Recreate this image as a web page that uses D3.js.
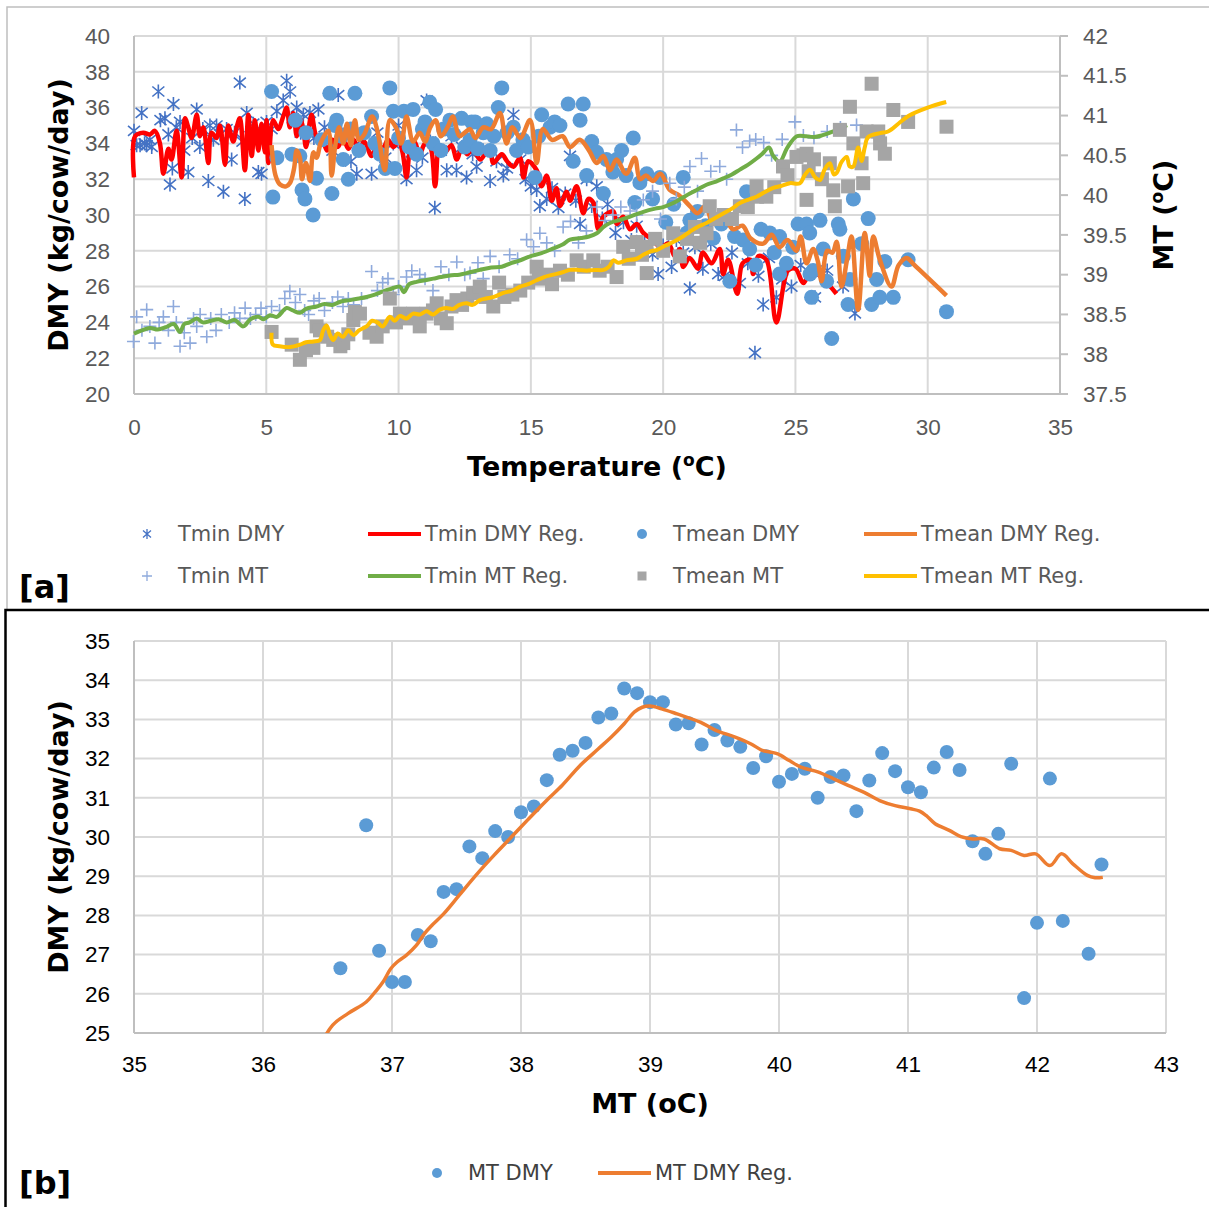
<!DOCTYPE html>
<html>
<head>
<meta charset="utf-8">
<script src="https://cdn.jsdelivr.net/npm/d3@7"></script>
<style>
  body { margin: 0; background: #fff; }
  svg { display: block; font-family: "DejaVu Sans", Verdana, sans-serif; }
</style>
</head>
<body>
<div id="chart"></div>
<script>
/// DATA panel [a]  ([temperature, DMY] or [temperature, MT])
const tminDmy = [[0.0,34.7],[0.1,33.9],[0.23,33.9],[0.29,35.7],[0.4,34.0],[0.48,33.9],[0.6,34.2],[0.67,33.8],[0.92,36.9],[1.0,35.3],[1.17,35.4],[1.3,34.5],[1.36,31.7],[1.45,32.6],[1.49,36.2],[1.6,34.9],[1.74,35.2],[1.9,33.6],[2.05,32.4],[2.2,34.3],[2.37,35.9],[2.49,33.8],[2.6,34.8],[2.81,31.9],[2.87,35.0],[3.0,34.2],[3.12,35.0],[3.25,34.5],[3.38,31.3],[3.5,34.8],[3.69,33.1],[3.8,34.6],[4.0,37.4],[4.1,34.1],[4.19,30.9],[4.26,35.7],[4.4,34.4],[4.51,35.1],[4.7,32.4],[4.82,32.3],[4.9,34.5],[5.01,35.2],[5.2,34.8],[5.4,35.8],[5.64,36.4],[5.77,37.5],[5.9,36.9],[6.0,35.4],[6.15,36.0],[6.3,34.6],[6.4,35.6],[6.65,35.7],[6.8,34.3],[6.97,35.9],[7.2,34.9],[7.5,33.6],[7.72,36.7],[7.9,34.5],[8.2,33.0],[8.42,32.3],[8.6,34.2],[8.98,32.3],[9.2,34.6],[9.5,33.2],[9.8,34.0],[10.0,35.0],[10.3,32.0],[10.5,33.5],[10.68,32.5],[10.9,33.2],[11.06,36.4],[11.2,34.1],[11.37,30.4],[11.6,33.6],[11.82,32.5],[12.0,34.4],[12.19,32.5],[12.4,33.8],[12.57,32.1],[12.8,33.4],[12.95,32.7],[13.2,33.6],[13.46,31.9],[13.7,33.0],[13.96,32.2],[14.1,32.6],[14.34,35.6],[14.6,33.1],[14.8,32.0],[15.0,31.6],[15.22,31.4],[15.34,30.5],[15.6,30.9],[15.8,31.5],[16.04,30.4],[16.3,31.2],[16.48,33.3],[16.7,30.8],[16.86,29.5],[17.11,32.0],[17.3,30.5],[17.49,31.6],[17.7,29.8],[17.9,30.6],[18.2,29.0],[18.5,29.6],[18.8,28.6],[19.0,29.4],[19.3,28.4],[19.6,27.8],[19.81,26.7],[20.0,28.3],[20.32,27.1],[20.5,28.6],[20.76,27.9],[21.01,25.9],[21.2,28.2],[21.5,27.0],[21.8,28.4],[22.08,26.7],[22.33,26.6],[22.6,27.9],[22.9,26.2],[23.2,27.3],[23.47,22.3],[23.6,26.6],[23.78,25.0],[24.0,27.6],[24.28,25.4],[24.5,26.4],[24.85,26.0],[25.2,27.2],[25.74,25.4],[26.2,26.9],[26.8,26.0],[27.25,24.5]];

const tminDmyReg = [[0.0,32.1],[0.04,34.4],[0.35,34.6],[0.6,34.5],[0.79,34.7],[0.98,34.0],[1.11,32.3],[1.3,33.7],[1.42,33.1],[1.61,34.7],[1.8,32.1],[1.93,35.4],[2.05,34.9],[2.18,34.3],[2.37,35.6],[2.49,34.4],[2.62,34.9],[2.81,32.9],[2.93,34.6],[3.12,34.3],[3.25,35.0],[3.44,32.8],[3.56,35.0],[3.75,34.1],[3.88,34.9],[4.0,35.4],[4.19,32.5],[4.32,35.6],[4.45,33.3],[4.57,35.3],[4.7,33.6],[4.82,35.1],[4.95,33.5],[5.01,35.3],[5.08,32.9],[5.26,35.3],[5.45,34.8],[5.64,35.5],[5.77,36.0],[5.89,34.9],[6.02,35.7],[6.15,34.4],[6.27,35.4],[6.4,34.8],[6.5,33.8],[6.71,35.6],[6.9,34.4],[7.1,34.3],[7.3,33.6],[7.5,34.2],[7.7,33.8],[7.9,34.3],[8.1,33.7],[8.3,34.2],[8.5,33.6],[8.7,34.1],[8.98,33.3],[9.2,34.0],[9.4,33.7],[9.6,34.2],[9.8,33.8],[10.0,34.1],[10.15,33.5],[10.3,32.1],[10.45,33.8],[10.6,34.1],[10.8,33.4],[11.0,34.0],[11.2,33.8],[11.38,31.6],[11.55,33.9],[11.75,33.5],[12.0,33.9],[12.2,33.1],[12.4,33.8],[12.6,33.4],[12.8,33.7],[13.08,33.1],[13.3,33.5],[13.46,33.8],[13.58,32.9],[13.9,33.4],[14.1,33.0],[14.34,32.7],[14.59,33.2],[14.72,32.1],[14.9,33.0],[15.22,32.5],[15.41,31.6],[15.6,32.2],[15.79,30.8],[15.97,31.5],[16.1,30.5],[16.35,31.3],[16.48,30.8],[16.73,31.6],[16.98,30.1],[17.17,30.9],[17.36,30.7],[17.55,29.2],[17.74,29.9],[18.12,30.2],[18.24,29.5],[18.49,29.9],[18.75,29.2],[19.0,29.5],[19.25,29.0],[19.6,28.6],[19.9,28.2],[20.2,28.4],[20.44,27.7],[20.63,28.1],[20.76,27.1],[21.0,27.6],[21.32,27.0],[21.5,27.9],[21.83,27.3],[22.14,28.1],[22.27,26.7],[22.46,27.5],[22.8,25.6],[23.0,27.3],[23.3,27.5],[23.4,26.7],[23.6,27.7],[23.9,27.5],[24.28,24.0],[24.72,26.9],[25.0,27.0],[25.3,26.2],[25.6,26.9],[26.0,26.5],[26.55,25.6]];

const tmeanDmy = [[5.2,36.9],[5.25,31.0],[5.4,33.2],[5.97,33.4],[6.1,35.3],[6.27,33.3],[6.35,31.4],[6.46,30.9],[6.5,34.6],[6.77,30.0],[6.9,32.05],[7.1,34.2],[7.4,36.8],[7.48,31.2],[7.6,35.0],[7.66,35.3],[7.85,34.4],[7.91,33.1],[8.1,32.0],[8.2,34.8],[8.35,36.8],[8.5,33.6],[8.7,34.6],[8.98,35.5],[9.1,34.0],[9.3,33.4],[9.5,32.6],[9.67,37.1],[9.8,35.8],[9.86,32.6],[10.0,34.3],[10.2,35.8],[10.4,33.8],[10.55,35.9],[10.68,33.4],[10.9,34.8],[11.0,35.2],[11.18,36.3],[11.3,34.0],[11.4,35.9],[11.6,33.6],[11.7,34.8],[11.94,35.3],[12.1,34.5],[12.38,35.4],[12.5,33.8],[12.7,34.2],[12.76,35.2],[12.89,35.2],[13.0,33.7],[13.2,34.6],[13.33,35.1],[13.46,33.6],[13.6,34.4],[13.77,36.0],[13.9,37.1],[14.1,34.6],[14.34,34.9],[14.46,33.6],[14.7,34.2],[14.9,33.8],[15.16,32.1],[15.3,34.4],[15.41,35.6],[15.72,34.9],[15.9,35.2],[16.1,35.0],[16.41,36.2],[16.6,33.0],[16.86,35.3],[16.98,36.2],[17.11,32.2],[17.3,34.1],[17.49,33.5],[17.74,31.2],[17.86,33.1],[18.1,32.4],[18.24,33.1],[18.43,33.6],[18.6,32.2],[18.87,34.3],[18.93,30.7],[19.12,31.8],[19.38,32.3],[19.6,30.9],[19.88,32.1],[20.1,29.6],[20.4,30.6],[20.76,32.1],[20.9,29.0],[21.01,29.7],[21.3,30.2],[21.6,29.4],[21.9,28.7],[22.2,29.5],[22.52,26.3],[22.7,28.8],[23.02,28.6],[23.15,31.3],[23.27,28.1],[23.5,27.2],[23.7,29.2],[24.03,29.0],[24.2,27.9],[24.4,28.8],[24.4,26.7],[24.66,27.3],[24.9,28.2],[25.1,29.5],[25.42,29.5],[25.54,29.0],[25.55,26.7],[25.61,25.4],[25.67,26.9],[25.93,29.7],[26.05,28.1],[26.18,26.3],[26.37,23.1],[26.62,29.5],[26.68,29.2],[26.81,27.7],[26.99,25.0],[27.06,26.4],[27.19,30.9],[27.5,28.4],[27.75,29.8],[27.88,25.0],[28.07,26.4],[28.19,25.4],[28.38,27.4],[28.7,25.4],[29.26,27.5],[30.71,24.6]];

const tmeanDmyReg = [[5.2,33.9],[5.35,32.2],[5.52,31.7],[5.75,31.6],[5.9,31.8],[6.05,32.6],[6.15,33.6],[6.27,33.2],[6.35,32.0],[6.5,32.9],[6.65,31.9],[6.78,33.5],[6.9,33.2],[7.05,34.0],[7.22,34.5],[7.35,34.7],[7.47,32.2],[7.6,33.8],[7.75,34.9],[7.91,34.0],[8.05,35.1],[8.2,33.9],[8.35,35.3],[8.5,34.2],[8.7,34.5],[9.0,35.5],[9.2,34.7],[9.48,32.5],[9.67,35.3],[9.9,34.9],[10.1,34.0],[10.3,35.5],[10.55,34.1],[10.8,34.6],[11.0,34.1],[11.2,34.9],[11.4,35.3],[11.6,34.4],[11.85,34.9],[12.05,35.5],[12.3,34.4],[12.5,34.6],[12.7,34.8],[12.9,34.3],[13.2,34.9],[13.5,34.8],[13.83,35.7],[14.08,34.0],[14.3,34.9],[14.6,34.3],[14.97,35.3],[15.22,32.9],[15.45,34.8],[15.8,34.2],[16.2,34.4],[16.48,33.8],[16.85,34.2],[17.2,33.6],[17.49,32.9],[17.74,33.3],[17.99,32.5],[18.24,33.1],[18.6,32.3],[18.93,33.2],[19.12,32.0],[19.35,32.2],[19.62,31.9],[19.9,32.3],[20.25,31.4],[20.6,31.1],[21.01,30.5],[21.3,30.1],[21.6,30.5],[21.9,29.5],[22.3,29.8],[22.65,29.2],[23.0,29.4],[23.3,28.7],[23.78,28.4],[24.1,28.9],[24.4,28.2],[24.7,28.6],[25.04,28.0],[25.2,28.8],[25.42,27.3],[25.67,28.1],[25.85,27.4],[25.99,26.3],[26.2,28.0],[26.4,27.9],[26.56,28.5],[26.74,26.0],[26.95,27.5],[27.12,28.8],[27.37,24.7],[27.62,29.0],[27.81,26.6],[27.94,28.8],[28.19,27.5],[28.63,26.0],[28.9,27.2],[29.2,27.6],[29.5,27.2],[30.71,25.5]];

const tminMt = [[-0.02,38.16],[0.1,38.47],[0.3,38.3],[0.48,38.56],[0.6,38.35],[0.79,38.14],[0.95,38.4],[1.11,38.47],[1.3,38.3],[1.49,38.6],[1.6,38.4],[1.74,38.1],[1.9,38.27],[2.12,38.14],[2.25,38.45],[2.37,38.35],[2.5,38.5],[2.75,38.22],[2.9,38.45],[3.1,38.3],[3.3,38.5],[3.6,38.4],[3.8,38.52],[4.0,38.45],[4.2,38.58],[4.4,38.45],[4.6,38.5],[4.8,38.58],[5.0,38.47],[5.2,38.6],[5.5,38.55],[5.7,38.7],[5.89,38.79],[6.1,38.65],[6.27,38.75],[6.45,38.55],[6.6,38.5],[6.8,38.67],[7.0,38.7],[7.2,38.55],[7.5,38.65],[7.7,38.72],[7.9,38.6],[8.1,38.7],[8.3,38.62],[8.6,38.7],[8.98,39.04],[9.2,38.8],[9.4,38.9],[9.6,38.95],[9.8,38.75],[10.0,38.85],[10.3,38.97],[10.5,39.05],[10.8,39.0],[11.0,38.95],[11.3,38.8],[11.6,39.1],[11.9,39.0],[12.2,39.16],[12.5,39.0],[12.7,39.02],[13.0,39.15],[13.2,38.95],[13.46,39.23],[13.8,39.1],[14.2,39.25],[14.5,39.2],[14.84,39.44],[15.1,39.35],[15.34,39.52],[15.6,39.4],[15.9,39.3],[16.22,39.6],[16.5,39.67],[16.8,39.4],[17.1,39.55],[17.49,39.85],[17.8,39.68],[18.1,39.75],[18.4,39.85],[18.75,39.8],[19.0,39.75],[19.25,39.94],[19.6,40.05],[19.9,39.7],[20.25,40.15],[20.5,39.95],[20.8,40.1],[21.01,40.36],[21.3,40.05],[21.45,40.46],[21.8,40.3],[22.14,40.36],[22.4,40.2],[22.77,40.82],[23.0,40.6],[23.27,40.68],[23.5,40.7],[23.8,40.66],[24.1,40.5],[24.5,40.7],[24.98,40.92],[25.3,40.75],[25.7,40.72],[26.2,40.8],[26.7,40.85],[27.31,40.88]];

const tminMtReg = [[0,38.26],[0.3,38.3],[0.6,38.33],[0.9,38.31],[1.2,38.34],[1.5,38.38],[1.74,38.28],[1.9,38.38],[2.1,38.4],[2.37,38.45],[2.6,38.4],[2.9,38.42],[3.2,38.44],[3.5,38.4],[3.8,38.43],[4.13,38.35],[4.4,38.44],[4.7,38.47],[4.9,38.44],[5.14,38.49],[5.4,38.47],[5.77,38.58],[6.0,38.55],[6.27,38.52],[6.5,38.57],[6.9,38.6],[7.2,38.63],[7.5,38.62],[7.8,38.66],[8.16,38.68],[8.5,38.7],[8.79,38.72],[9.1,38.75],[9.42,38.79],[9.7,38.82],[10.05,38.85],[10.2,38.78],[10.4,38.88],[10.68,38.91],[11.0,38.93],[11.31,38.95],[11.6,38.97],[11.94,38.99],[12.3,39.0],[12.57,39.02],[13.07,39.06],[13.5,39.09],[13.9,39.1],[14.21,39.14],[14.6,39.18],[14.97,39.23],[15.4,39.27],[15.85,39.33],[16.2,39.38],[16.48,39.44],[16.9,39.46],[17.2,39.48],[17.49,39.52],[17.75,39.6],[17.99,39.65],[18.4,39.69],[18.75,39.73],[19.0,39.76],[19.25,39.79],[19.7,39.83],[20.0,39.85],[20.38,39.9],[20.7,39.96],[21.01,40.02],[21.3,40.07],[21.64,40.13],[22.0,40.17],[22.27,40.21],[22.6,40.26],[22.9,40.32],[23.2,40.38],[23.53,40.46],[23.75,40.52],[24.0,40.6],[24.15,40.5],[24.4,40.42],[24.7,40.6],[25.05,40.74],[25.4,40.74],[25.7,40.73],[26.0,40.75],[26.43,40.8],[26.95,40.88]];

const tmeanMt = [[5.2,38.28],[5.96,38.12],[6.27,37.93],[6.5,38.05],[6.78,38.08],[6.9,38.35],[7.03,38.3],[7.3,38.22],[7.53,38.18],[7.8,38.1],[7.91,38.14],[8.1,38.25],[8.29,38.43],[8.35,38.53],[8.54,38.51],[8.9,38.27],[9.17,38.22],[9.4,38.35],[9.67,38.7],[9.9,38.4],[10.05,38.51],[10.3,38.45],[10.55,38.51],[10.8,38.35],[11.06,38.51],[11.3,38.55],[11.44,38.64],[11.6,38.45],[11.82,38.39],[12.0,38.6],[12.19,38.68],[12.4,38.62],[12.6,38.7],[12.82,38.77],[13.07,38.85],[13.3,38.72],[13.58,38.6],[13.8,38.9],[14.0,38.72],[14.3,38.75],[14.6,38.8],[14.9,38.9],[15.22,39.1],[15.3,38.95],[15.6,39.0],[15.8,38.88],[16.1,39.05],[16.4,39.0],[16.73,39.18],[17.0,39.1],[17.36,39.18],[17.6,39.05],[17.9,39.1],[18.24,38.97],[18.49,39.35],[18.7,39.2],[19.0,39.41],[19.2,39.25],[19.38,39.02],[19.37,39.35],[19.7,39.45],[20.0,39.3],[20.38,39.52],[20.63,39.23],[20.9,39.45],[21.2,39.6],[21.4,39.4],[21.64,39.52],[21.76,39.86],[22.0,39.7],[22.3,39.75],[22.6,39.7],[22.9,39.86],[23.2,39.85],[23.53,40.11],[23.55,39.98],[23.9,39.98],[24.2,40.1],[24.53,40.36],[24.7,40.25],[25.04,40.48],[25.3,40.5],[25.42,40.52],[25.5,40.3],[25.42,39.94],[25.7,40.45],[26.0,40.2],[26.3,40.4],[26.43,40.06],[26.49,39.86],[26.68,40.82],[26.99,40.11],[27.06,41.11],[27.19,40.65],[27.5,40.4],[27.56,40.15],[27.69,40.8],[27.88,41.4],[28.13,40.8],[28.2,40.65],[28.38,40.52],[28.7,41.07],[29.26,40.92],[30.71,40.86]];

const tmeanMtReg = [[5.2,38.27],[5.25,38.12],[5.5,38.1],[5.9,38.09],[6.27,38.12],[6.5,38.15],[6.78,38.16],[7.03,38.18],[7.15,38.3],[7.28,38.36],[7.4,38.25],[7.53,38.18],[7.7,38.26],[7.9,38.22],[8.1,38.3],[8.3,38.24],[8.5,38.3],[8.79,38.35],[9.0,38.42],[9.2,38.4],[9.4,38.35],[9.67,38.47],[9.85,38.42],[10.05,38.48],[10.3,38.45],[10.55,38.51],[10.8,38.5],[11.06,38.54],[11.3,38.5],[11.56,38.56],[11.8,38.58],[12.05,38.57],[12.3,38.62],[12.57,38.64],[12.8,38.62],[13.07,38.68],[13.3,38.7],[13.6,38.72],[13.96,38.77],[14.3,38.8],[14.6,38.85],[14.9,38.88],[15.22,38.93],[15.5,38.97],[15.85,39.0],[16.2,39.03],[16.48,39.06],[16.8,39.06],[17.1,39.05],[17.4,39.06],[17.74,39.06],[17.95,39.1],[18.12,39.18],[18.3,39.15],[18.6,39.18],[19.0,39.2],[19.25,39.25],[19.5,39.29],[19.75,39.31],[20.05,39.36],[20.38,39.41],[20.7,39.47],[21.01,39.54],[21.3,39.6],[21.64,39.65],[21.95,39.71],[22.27,39.77],[22.6,39.83],[22.9,39.9],[23.2,39.94],[23.53,39.98],[23.85,40.04],[24.16,40.09],[24.5,40.12],[24.79,40.15],[25.17,40.15],[25.35,40.25],[25.55,40.32],[25.75,40.22],[25.93,40.19],[26.1,40.32],[26.3,40.4],[26.45,40.26],[26.56,40.28],[26.75,40.42],[26.94,40.48],[27.05,40.36],[27.19,40.36],[27.37,40.6],[27.5,40.43],[27.62,40.6],[27.75,40.73],[28.2,40.78],[28.5,40.8],[28.9,40.9],[29.3,41.0],[30.0,41.1],[30.7,41.17]];

/// DATA panel [b]  ([MT, DMY])
const mtDmy = [[36.6,26.65],[36.8,30.3],[36.9,27.1],[37.0,26.3],[37.1,26.3],[37.2,27.5],[37.3,27.34],[37.4,28.6],[37.5,28.67],[37.6,29.76],[37.7,29.46],[37.8,30.15],[37.9,30.0],[38.0,30.63],[38.1,30.78],[38.2,31.45],[38.3,32.1],[38.4,32.2],[38.5,32.4],[38.6,33.05],[38.7,33.15],[38.8,33.79],[38.9,33.67],[39.0,33.44],[39.1,33.44],[39.2,32.87],[39.3,32.9],[39.4,32.36],[39.5,32.73],[39.6,32.46],[39.7,32.3],[39.8,31.76],[39.9,32.06],[40.0,31.41],[40.1,31.61],[40.2,31.74],[40.3,31.0],[40.4,31.53],[40.5,31.57],[40.6,30.66],[40.7,31.44],[40.8,32.14],[40.9,31.68],[41.0,31.27],[41.1,31.14],[41.2,31.77],[41.3,32.17],[41.4,31.71],[41.5,29.89],[41.6,29.57],[41.7,30.08],[41.8,31.87],[41.9,25.89],[42.0,27.81],[42.1,31.49],[42.2,27.86],[42.4,27.02],[42.5,29.3]];

const mtDmyReg = [[36.4,24.4],[36.54,25.2],[36.66,25.5],[36.8,25.79],[36.87,26.05],[36.93,26.3],[36.99,26.64],[37.04,26.81],[37.11,26.98],[37.19,27.24],[37.25,27.53],[37.31,27.75],[37.4,28.04],[37.52,28.51],[37.66,29.06],[37.79,29.53],[37.9,29.91],[38.05,30.43],[38.2,30.94],[38.32,31.32],[38.46,31.83],[38.6,32.25],[38.7,32.55],[38.8,32.89],[38.88,33.19],[38.94,33.31],[39.0,33.34],[39.09,33.27],[39.21,33.14],[39.39,32.93],[39.51,32.72],[39.66,32.55],[39.78,32.38],[39.87,32.21],[39.93,32.17],[39.99,32.12],[40.08,31.95],[40.17,31.78],[40.3,31.66],[40.42,31.49],[40.54,31.31],[40.66,31.14],[40.78,30.93],[40.9,30.8],[41.02,30.72],[41.09,30.66],[41.14,30.55],[41.21,30.34],[41.32,30.17],[41.41,30.01],[41.5,29.95],[41.59,29.95],[41.71,29.7],[41.8,29.66],[41.9,29.53],[41.99,29.57],[42.1,29.27],[42.19,29.57],[42.28,29.31],[42.39,29.02],[42.45,28.96],[42.51,28.97]];

/// SETUP
const W = 1209, H = 1207;
const svg = d3.select('#chart').append('svg').attr('width', W).attr('height', H);
const GRID = '#d9d9d9', AXIS = '#bfbfbf', TXT = '#595959';
const TICK = '22.5px', TITLE = '27px';

const starPath = 'M0,-7V7M-6,-5L6,5M-6,5L6,-5';
const plusPath = 'M-6.5,0H6.5M0,-6.5V6.5';

// frames
svg.append('path').attr('d', 'M7,609V7H1209').attr('fill', 'none').attr('stroke', '#bfbfbf').attr('stroke-width', 1.5);
svg.append('path').attr('d', 'M5.5,1207V610H1209').attr('fill', 'none').attr('stroke', '#000').attr('stroke-width', 2.5);

function grid(g, x, y, xt, yt) {
  g.selectAll('.gx').data(xt).join('line')
    .attr('x1', d => x(d)).attr('x2', d => x(d))
    .attr('y1', y.range()[0]).attr('y2', y.range()[1])
    .attr('stroke', GRID).attr('stroke-width', 2);
  g.selectAll('.gy').data(yt).join('line')
    .attr('x1', x.range()[0]).attr('x2', x.range()[1])
    .attr('y1', d => y(d)).attr('y2', d => y(d))
    .attr('stroke', GRID).attr('stroke-width', 2);
}

function styleAxis(sel, color) {
  sel.select('.domain').remove();
  sel.selectAll('line').remove();
  sel.selectAll('text').attr('fill', color).style('font-size', TICK);
}

function line(x, y) {
  return d3.line().x(d => x(d[0])).y(d => y(d[1])).curve(d3.curveCatmullRom.alpha(0.5));
}

function supTitle(t, pre) {
  t.append('tspan').text(pre);
  t.append('tspan').text('o').style('font-size', '17px').attr('dy', -10);
  t.append('tspan').text('C)').attr('dy', 10);
}

/// PANEL [a]
const ax = d3.scaleLinear().domain([0, 35]).range([134, 1060]);
const ay = d3.scaleLinear().domain([20, 40]).range([394, 36]);
const ay2 = d3.scaleLinear().domain([37.5, 42]).range([394, 36]);

const ga = svg.append('g');
grid(ga.append('g'), ax, ay, d3.range(5, 35, 5), d3.range(22, 41, 2));

ga.append('line').attr('x1', 134).attr('x2', 134).attr('y1', 36).attr('y2', 394).attr('stroke', AXIS).attr('stroke-width', 2);
ga.append('line').attr('x1', 134).attr('x2', 1060).attr('y1', 394).attr('y2', 394).attr('stroke', AXIS).attr('stroke-width', 2);
ga.append('line').attr('x1', 1060).attr('x2', 1060).attr('y1', 36).attr('y2', 394).attr('stroke', AXIS).attr('stroke-width', 2);
ga.selectAll('.rt').data(d3.range(37.5, 42.01, 0.5)).join('line')
  .attr('x1', 1060).attr('x2', 1068).attr('y1', d => ay2(d)).attr('y2', d => ay2(d))
  .attr('stroke', AXIS).attr('stroke-width', 2);

ga.append('g').attr('transform', 'translate(0,394)')
  .call(d3.axisBottom(ax).tickValues(d3.range(0, 36, 5)).tickSize(0).tickPadding(25))
  .call(s => styleAxis(s, TXT));
ga.append('g').attr('transform', 'translate(134,0)')
  .call(d3.axisLeft(ay).tickValues(d3.range(20, 41, 2)).tickSize(0).tickPadding(24))
  .call(s => styleAxis(s, TXT));
ga.append('g').attr('transform', 'translate(1060,0)')
  .call(d3.axisRight(ay2).tickValues(d3.range(37.5, 42.01, 0.5)).tickSize(0).tickPadding(23).tickFormat(d3.format('~g')))
  .call(s => styleAxis(s, TXT));

// series, in Excel order
ga.append('g').selectAll('path').data(tminDmy).join('path')
  .attr('d', starPath).attr('transform', d => `translate(${ax(d[0])},${ay(d[1])})`)
  .attr('stroke', '#4472c4').attr('stroke-width', 1.6).attr('fill', 'none');
ga.append('path').datum(tminDmyReg).attr('d', line(ax, ay))
  .attr('fill', 'none').attr('stroke', '#ff0000').attr('stroke-width', 4.5).attr('stroke-linejoin', 'round');
ga.append('g').selectAll('circle').data(tmeanDmy).join('circle')
  .attr('cx', d => ax(d[0])).attr('cy', d => ay(d[1])).attr('r', 7.5).attr('fill', '#5b9bd5');
ga.append('path').datum(tmeanDmyReg).attr('d', line(ax, ay))
  .attr('fill', 'none').attr('stroke', '#ed7d31').attr('stroke-width', 4.5).attr('stroke-linejoin', 'round');
ga.append('g').selectAll('path').data(tminMt).join('path')
  .attr('d', plusPath).attr('transform', d => `translate(${ax(d[0])},${ay2(d[1])})`)
  .attr('stroke', '#8faadc').attr('stroke-width', 1.6).attr('fill', 'none');
ga.append('path').datum(tminMtReg).attr('d', line(ax, ay2))
  .attr('fill', 'none').attr('stroke', '#70ad47').attr('stroke-width', 4).attr('stroke-linejoin', 'round');
ga.append('g').selectAll('rect').data(tmeanMt).join('rect')
  .attr('x', d => ax(d[0]) - 7).attr('y', d => ay2(d[1]) - 7).attr('width', 14).attr('height', 14)
  .attr('fill', '#a5a5a5');
ga.append('path').datum(tmeanMtReg).attr('d', line(ax, ay2))
  .attr('fill', 'none').attr('stroke', '#ffc000').attr('stroke-width', 4).attr('stroke-linejoin', 'round');

// titles
ga.append('text').attr('x', 597).attr('y', 476).attr('text-anchor', 'middle')
  .style('font-size', TITLE).style('font-weight', 'bold')
  .call(t => supTitle(t, 'Temperature ('));
ga.append('text').attr('transform', 'translate(68,215) rotate(-90)').attr('text-anchor', 'middle')
  .style('font-size', TITLE).style('font-weight', 'bold').text('DMY (kg/cow/day)');
ga.append('text').attr('transform', 'translate(1173,215) rotate(-90)').attr('text-anchor', 'middle')
  .style('font-size', TITLE).style('font-weight', 'bold')
  .call(t => supTitle(t, 'MT ('));

// legend [a]
const legA = [
  {name: 'Tmin DMY', type: 'star', color: '#4472c4', x: 147, y: 534},
  {name: 'Tmin DMY Reg.', type: 'line', color: '#ff0000', x: 368, y: 534},
  {name: 'Tmean DMY', type: 'circle', color: '#5b9bd5', x: 642, y: 534},
  {name: 'Tmean DMY Reg.', type: 'line', color: '#ed7d31', x: 864, y: 534},
  {name: 'Tmin MT', type: 'plus', color: '#8faadc', x: 147, y: 576},
  {name: 'Tmin MT Reg.', type: 'line', color: '#70ad47', x: 368, y: 576},
  {name: 'Tmean MT', type: 'square', color: '#a5a5a5', x: 642, y: 576},
  {name: 'Tmean MT Reg.', type: 'line', color: '#ffc000', x: 864, y: 576}
];

function legend(g, items, color) {
  items.forEach(d => {
    const it = g.append('g').attr('transform', `translate(${d.x},${d.y})`);
    let tx = 31;
    if (d.type === 'line') {
      it.append('line').attr('x1', 0).attr('x2', 53).attr('stroke', d.color).attr('stroke-width', 4);
      tx = 57;
    } else if (d.type === 'star') {
      it.append('path').attr('d', 'M0,-5V5M-4,-3.5L4,3.5M-4,3.5L4,-3.5').attr('stroke', d.color).attr('stroke-width', 1.3).attr('fill', 'none');
    } else if (d.type === 'plus') {
      it.append('path').attr('d', 'M-5,0H5M0,-5V5').attr('stroke', d.color).attr('stroke-width', 1.3).attr('fill', 'none');
    } else if (d.type === 'circle') {
      it.append('circle').attr('r', 5).attr('fill', d.color);
    } else {
      it.append('rect').attr('x', -4.5).attr('y', -4.5).attr('width', 9).attr('height', 9).attr('fill', d.color);
    }
    it.append('text').attr('x', tx).attr('dy', '0.35em').attr('fill', color)
      .style('font-size', '21px').text(d.name);
  });
}
legend(svg.append('g'), legA, TXT);

svg.append('text').attr('x', 19).attr('y', 598).style('font-size', '32px').style('font-weight', 'bold').text('[a]');

/// PANEL [b]
const bx = d3.scaleLinear().domain([35, 43]).range([134, 1166]);
const by = d3.scaleLinear().domain([25, 35]).range([1033, 641]);

const gb = svg.append('g');
grid(gb.append('g'), bx, by, d3.range(36, 44, 1), d3.range(26, 36, 1));
gb.append('line').attr('x1', 134).attr('x2', 134).attr('y1', 641).attr('y2', 1033).attr('stroke', AXIS).attr('stroke-width', 2);
gb.append('line').attr('x1', 134).attr('x2', 1166).attr('y1', 1033).attr('y2', 1033).attr('stroke', AXIS).attr('stroke-width', 2);

gb.append('g').attr('transform', 'translate(0,1033)')
  .call(d3.axisBottom(bx).tickValues(d3.range(35, 44, 1)).tickSize(0).tickPadding(23))
  .call(s => styleAxis(s, '#000'));
gb.append('g').attr('transform', 'translate(134,0)')
  .call(d3.axisLeft(by).tickValues(d3.range(25, 36, 1)).tickSize(0).tickPadding(24))
  .call(s => styleAxis(s, '#000'));

gb.append('clipPath').attr('id', 'clipb').append('rect')
  .attr('x', 134).attr('y', 641).attr('width', 1032).attr('height', 392);

gb.append('g').selectAll('circle').data(mtDmy).join('circle')
  .attr('cx', d => bx(d[0])).attr('cy', d => by(d[1])).attr('r', 7).attr('fill', '#5b9bd5');
gb.append('path').datum(mtDmyReg).attr('d', line(bx, by)).attr('clip-path', 'url(#clipb)')
  .attr('fill', 'none').attr('stroke', '#ed7d31').attr('stroke-width', 3.5).attr('stroke-linejoin', 'round');

gb.append('text').attr('x', 650).attr('y', 1113).attr('text-anchor', 'middle')
  .style('font-size', TITLE).style('font-weight', 'bold').text('MT (oC)');
gb.append('text').attr('transform', 'translate(68,837) rotate(-90)').attr('text-anchor', 'middle')
  .style('font-size', TITLE).style('font-weight', 'bold').text('DMY (kg/cow/day)');

legend(svg.append('g'), [
  {name: 'MT DMY', type: 'circle', color: '#5b9bd5', x: 437, y: 1173},
  {name: 'MT DMY Reg.', type: 'line', color: '#ed7d31', x: 598, y: 1173}
], '#404040');

svg.append('text').attr('x', 19).attr('y', 1194).style('font-size', '32px').style('font-weight', 'bold').text('[b]');
</script>
</body>
</html>
